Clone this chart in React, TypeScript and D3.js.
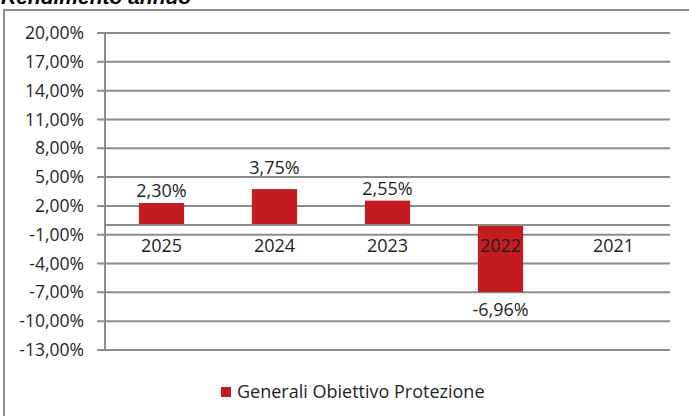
import React from "react";
import * as d3 from "d3";

const categories = ["2025", "2024", "2023", "2022", "2021"];
const values: (number | null)[] = [2.3, 3.75, 2.55, -6.96, null];
const yTicks = [20, 17, 14, 11, 8, 5, 2, -1, -4, -7, -10, -13];
const seriesName = "Generali Obiettivo Protezione";
const title = "Rendimento annuo";

// layout only: extra lift of individual value labels, as placed in the reference
const labelLift = [0, 9, 0, 0, 0];

const W = 689;
const H = 416;
const FONT = "'Open Sans', 'Noto Sans', sans-serif";
const RED = "#C41C1F";
const GRID = "#8c8c8c";
const TEXT = "#1f1f1f";

const fmt = (v: number) => v.toFixed(2).replace(".", ",") + "%";

export default function App() {
  const x = d3
    .scaleBand<string>()
    .domain(categories)
    .range([105, 670])
    .paddingInner(0.6)
    .paddingOuter(0.3);
  const y = d3.scaleLinear().domain([-13, 20]).range([350, 33]);
  const y0 = y(0);

  return (
    <svg
      width={W}
      height={H}
      style={{ position: "absolute", left: 0, top: 0, background: "#fff" }}
    >
      <rect x={0} y={0} width={W} height={H} fill="#fff" />
      <text
        x={1}
        y={4}
        fontFamily="'Liberation Sans', Arial, sans-serif"
        fontWeight="bold"
        fontStyle="italic"
        fontSize={21}
        fill="#000"
      >
        {title}
      </text>
      {/* outer border */}
      <path d={`M4,${H + 2} V10 H${W + 2}`} fill="none" stroke={GRID} strokeWidth={2} />

      {/* gridlines and ticks */}
      {yTicks.map((t) => (
        <g key={t}>
          <line x1={97} x2={670} y1={y(t)} y2={y(t)} stroke={GRID} strokeWidth={2} />
          <text
            x={84}
            y={y(t)}
            dy="0.35em"
            textAnchor="end"
            fontFamily={FONT}
            fontSize={17.5}
            fill={TEXT}
          >
            {fmt(t)}
          </text>
        </g>
      ))}
      {/* y axis */}
      <line x1={105} x2={105} y1={y(20)} y2={y(-13)} stroke={GRID} strokeWidth={2} />

      {/* bars */}
      {categories.map((c, i) => {
        const v = values[i];
        if (v === null) return null;
        const bx = x(c)!;
        const top = Math.min(y(v), y0);
        const h = Math.abs(y(v) - y0);
        return <rect key={c} x={bx} y={top} width={x.bandwidth()} height={h} fill={RED} />;
      })}

      {/* zero axis */}
      <line x1={105} x2={670} y1={y0} y2={y0} stroke={GRID} strokeWidth={2} />

      {/* category labels */}
      {categories.map((c) => (
        <text
          key={c}
          x={x(c)! + x.bandwidth() / 2}
          y={y0 + 21}
          dy="0.35em"
          textAnchor="middle"
          fontFamily={FONT}
          fontSize={18}
          fill={TEXT}
        >
          {c}
        </text>
      ))}

      {/* value labels */}
      {categories.map((c, i) => {
        const v = values[i];
        if (v === null) return null;
        const cx = x(c)! + x.bandwidth() / 2;
        const ly = v >= 0 ? y(v) - 6 - labelLift[i] : y(v) + 24;
        return (
          <text
            key={c}
            x={cx}
            y={ly}
            textAnchor="middle"
            fontFamily={FONT}
            fontSize={18}
            fill={TEXT}
          >
            {fmt(v)}
          </text>
        );
      })}

      {/* legend */}
      <rect x={221} y={387} width={10} height={10} fill={RED} />
      <text x={237} y={392} dy="0.35em" fontFamily={FONT} fontSize={18} fill={TEXT}>
        {seriesName}
      </text>
    </svg>
  );
}
